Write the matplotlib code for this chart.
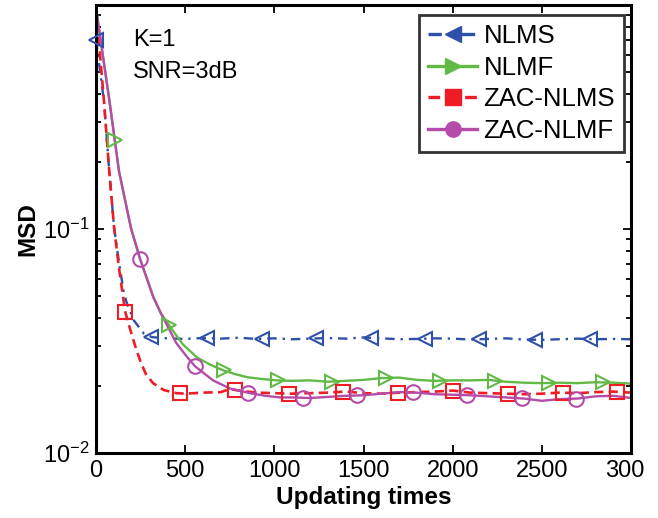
import numpy as np
import matplotlib
matplotlib.use("Agg")
import matplotlib.pyplot as plt
from matplotlib.lines import Line2D
from matplotlib.transforms import Bbox

plt.rcParams['font.family'] = ['Liberation Sans', 'DejaVu Sans']

# ---------------- data ----------------
plateau_x = [1100, 1200, 1300, 1400, 1500, 1600, 1700, 1800, 1900, 2000,
             2100, 2200, 2300, 2400, 2500, 2600, 2700, 2800, 2900, 3000]

nlms_x = [0, 45, 73, 101, 130, 157, 174, 213, 269, 314, 400, 500, 600, 700, 800, 900, 1000] + plateau_x
nlms_y = [0.70, 0.37, 0.187, 0.102, 0.070, 0.0514, 0.0464, 0.039, 0.0341, 0.0329, 0.0325, 0.0323,
          0.0326, 0.0324, 0.0327, 0.0323, 0.0325,
          0.0322, 0.0324, 0.0326, 0.0324, 0.0328, 0.0325, 0.0322, 0.0323, 0.0325, 0.0324,
          0.0321, 0.0323, 0.0325, 0.0321, 0.0320, 0.0322, 0.0324, 0.0322, 0.0323, 0.0322]

nlmf_x = [0, 76, 129, 196, 247, 320, 364, 404, 450, 488, 566, 640, 712, 780, 847, 930, 1015] + plateau_x
nlmf_y = [0.97, 0.37, 0.181, 0.101, 0.0736, 0.050, 0.042, 0.0378, 0.0335, 0.0305, 0.0267, 0.0248,
          0.0234, 0.0225, 0.0218, 0.0214, 0.0211,
          0.0210, 0.0211, 0.0208, 0.0210, 0.0212, 0.0216, 0.0217, 0.0212, 0.0210, 0.0211,
          0.0211, 0.0212, 0.0208, 0.0206, 0.0205, 0.0206, 0.0205, 0.0207, 0.0206, 0.0204]

zacnlms_x = [0, 45, 73, 101, 130, 163, 190, 220, 250, 280, 320, 380, 450, 500, 600, 700, 750, 800,
             900, 1000] + plateau_x
zacnlms_y = [0.97, 0.37, 0.187, 0.102, 0.066, 0.043, 0.036, 0.030, 0.0255, 0.0225, 0.0205, 0.0191,
             0.0185, 0.0184, 0.0186, 0.0187, 0.0193, 0.0190, 0.0186, 0.0185,
             0.0184, 0.0185, 0.0186, 0.0188, 0.0185, 0.0184, 0.0186, 0.0187, 0.0188, 0.0190,
             0.0186, 0.0185, 0.0184, 0.0183, 0.0184, 0.0186, 0.0185, 0.0187, 0.0188, 0.0186]

zacnlmf_x = [0, 76, 129, 196, 247, 320, 364, 400, 450, 500, 555, 656, 751, 864, 950, 1032] + plateau_x
zacnlmf_y = [0.97, 0.37, 0.181, 0.101, 0.0736, 0.050, 0.042, 0.037, 0.031, 0.0275, 0.0244, 0.0211,
             0.0194, 0.0185, 0.0180, 0.0177,
             0.0177, 0.0176, 0.0178, 0.0180, 0.0181, 0.0184, 0.0187, 0.0186, 0.0183, 0.0182,
             0.0181, 0.0179, 0.0177, 0.0175, 0.0171, 0.0174, 0.0175, 0.0179, 0.0180, 0.0176]

nlms_mx = [0, 310, 620, 930, 1235, 1540, 1845, 2150, 2460, 2770]
nlmf_mx = [105, 410, 715, 1020, 1325, 1625, 1930, 2235, 2540, 2845]
zacnlms_mx = [165, 470, 778, 1085, 1387, 1693, 2000, 2310, 2620, 2920]
zacnlmf_mx = [247, 555, 855, 1160, 1465, 1775, 2080, 2388, 2692]

labels = ["NLMS", "NLMF", "ZAC-NLMS", "ZAC-NLMF"]
x_ticks = [0, 500, 1000, 1500, 2000, 2500, 3000]
y_ticks = [0.01, 0.1]
y_ticklabels = [r"$\mathregular{10^{-2}}$", r"$\mathregular{10^{-1}}$"]

# ---------------- style ----------------
c_blue = "#2f50a8"
c_green = "#62b946"
c_red = "#ee1c25"
c_mag = "#b54ca9"

series = [
    (nlms_x, nlms_y, nlms_mx, c_blue, (0, (4, 2.5, 1, 2.5)), "<", 1.7, 10.5),
    (nlmf_x, nlmf_y, nlmf_mx, c_green, "-", ">", 1.7, 10.5),
    (zacnlms_x, zacnlms_y, zacnlms_mx, c_red, (0, (3.5, 2)), "s", 1.9, 9.5),
    (zacnlmf_x, zacnlmf_y, zacnlmf_mx, c_mag, "-", "o", 1.7, 10.5),
]

fig = plt.figure(figsize=(6.58, 5.18), dpi=100)
ax = fig.add_axes([96 / 658, 1 - 453 / 518, (631 - 96) / 658, (453 - 5) / 518])

handles = []
for (xs, ys, mx, col, ls, mk, lw, ms), lab in zip(series, labels):
    ax.plot(xs, ys, color=col, linestyle=ls, linewidth=lw, zorder=2)
    my = 10 ** np.interp(mx, xs, np.log10(ys))
    ax.plot(mx, my, linestyle="none", marker=mk, markersize=ms, markerfacecolor="none",
            markeredgecolor=col, markeredgewidth=1.5, zorder=3, clip_on=False)
    handles.append(Line2D([], [], color=col, linestyle=ls, linewidth=2.4, marker=mk,
                          markersize=11, markerfacecolor=col, markeredgecolor=col))

ax.set_yscale("log")
ax.set_xlim(0, 3000)
ax.set_ylim(0.01, 1.0)
ax.set_xticks(x_ticks)
ax.set_xticklabels([str(t) for t in x_ticks])
ax.set_yticks(y_ticks)
ax.set_yticklabels(y_ticklabels)

ax.tick_params(which="both", direction="in", top=True, right=True, labelsize=17, width=1.3)
ax.tick_params(which="major", length=6, pad=5)
ax.tick_params(which="minor", length=3.5)
for s in ax.spines.values():
    s.set_linewidth(2.2)

ax.set_xlabel("Updating times", fontsize=17.5, fontweight="bold", labelpad=3)
ax.set_ylabel("MSD", fontsize=17.5, fontweight="bold", labelpad=2)

ax.text(0.069, 0.922, "K=1", transform=ax.transAxes, fontsize=17, va="center", ha="left")
ax.text(0.069, 0.851, "SNR=3dB", transform=ax.transAxes, fontsize=17, va="center", ha="left")

leg = ax.legend(handles, labels, loc="upper right", bbox_to_anchor=(0.987, 0.978),
                borderaxespad=0, fontsize=18.5, frameon=True, fancybox=False,
                handlelength=1.9, handletextpad=0.25, labelspacing=0.3,
                borderpad=0.35)
leg.get_frame().set_edgecolor("black")
leg.get_frame().set_linewidth(2.0)

# the reference image is cropped just after "300" of the last tick label
lbl = ax.get_xticklabels()[-1]
lbl.set_clip_on(True)
lbl.set_clip_box(Bbox.from_extents(0, 0, 645, 518))

fig.savefig("out.png", dpi=100)
